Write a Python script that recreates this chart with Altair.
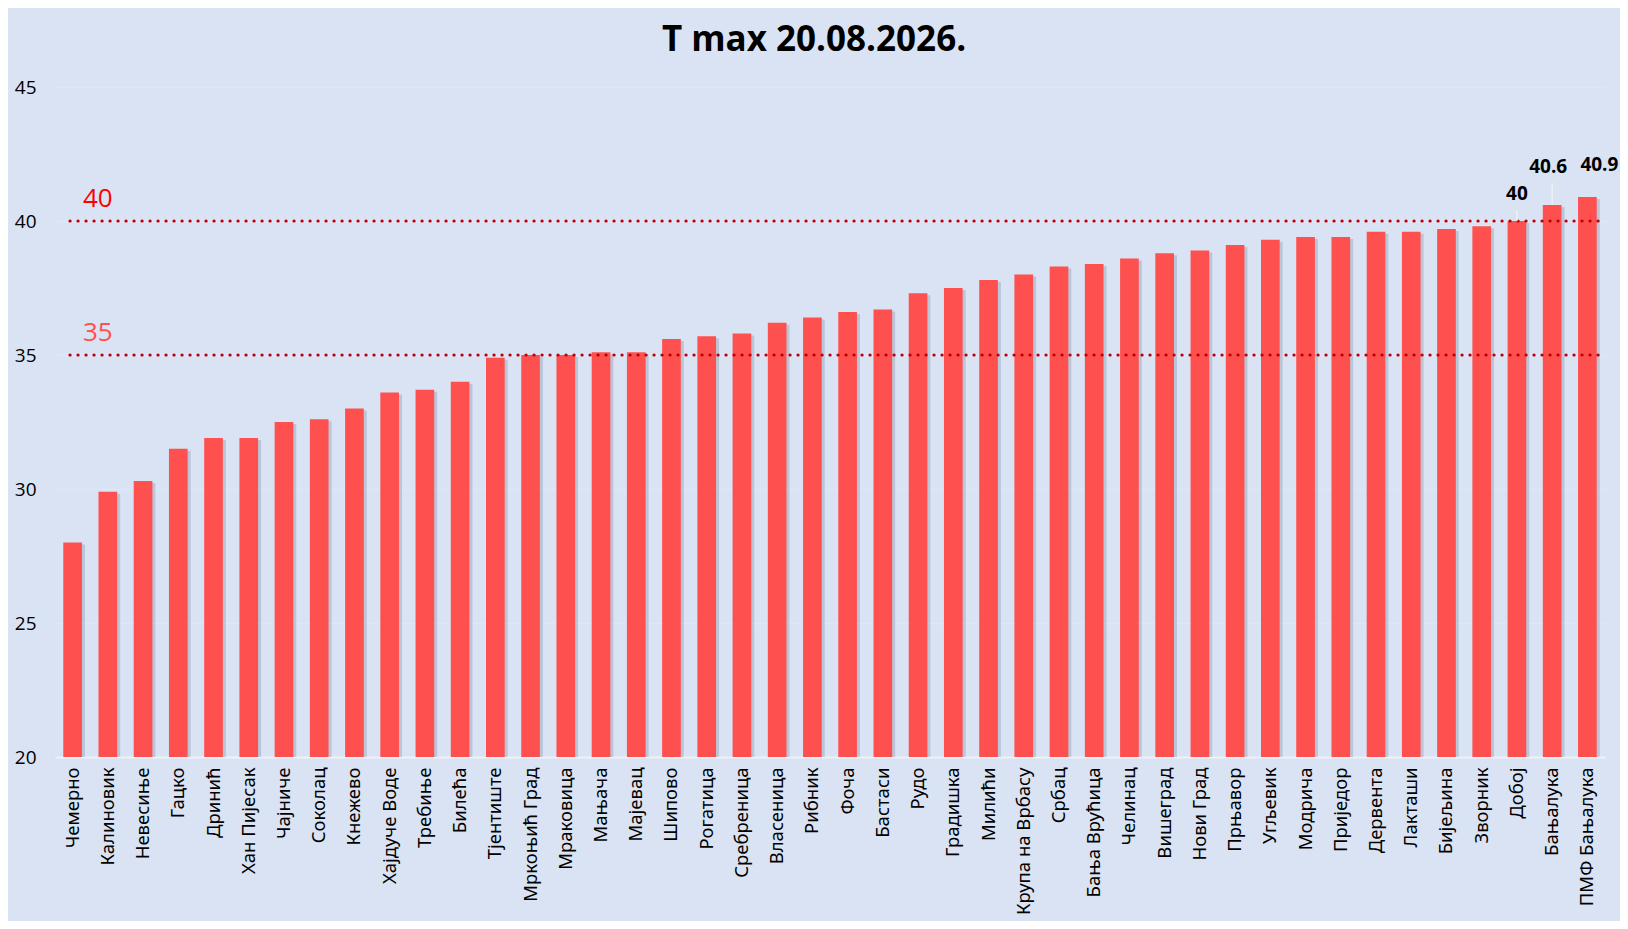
import altair as alt
import pandas as pd

stations = ["Чемерно", "Калиновик", "Невесиње", "Гацко", "Дринић", "Хан Пијесак", "Чајниче",
            "Соколац", "Кнежево", "Хајдуче Воде", "Требиње", "Билећа", "Тјентиште", "Мркоњић Град",
            "Мраковица", "Мањача", "Мајевац", "Шипово", "Рогатица", "Сребреница", "Власеница",
            "Рибник", "Фоча", "Бастаси", "Рудо", "Градишка", "Милићи", "Крупа на Врбасу", "Србац",
            "Бања Врућица", "Челинац", "Вишеград", "Нови Град", "Прњавор", "Угљевик", "Модрича",
            "Приједор", "Дервента", "Лакташи", "Бијељина", "Зворник", "Добој", "Бањалука",
            "ПМФ Бањалука"]
tmax = [28.0, 29.9, 30.3, 31.5, 31.9, 31.9, 32.5,
        32.6, 33.0, 33.6, 33.7, 34.0, 34.9, 35.0,
        35.0, 35.1, 35.1, 35.6, 35.7, 35.8, 36.2,
        36.4, 36.6, 36.7, 37.3, 37.5, 37.8, 38.0, 38.3,
        38.4, 38.6, 38.8, 38.9, 39.1, 39.3, 39.4,
        39.4, 39.6, 39.6, 39.7, 39.8, 40.0, 40.6,
        40.9]
labelled_stations = ["Добој", "Бањалука", "ПМФ Бањалука"]
y_ticks = [20, 25, 30, 35, 40, 45]
thresholds = [40, 35]
threshold_labels = ["40", "35"]
threshold_colors = ["#FF0000", "#FF5050"]
title_text = "T max 20.08.2026."

df = pd.DataFrame({"station": stations, "tmax": tmax})
thr = pd.DataFrame({"value": thresholds, "label": threshold_labels, "color": threshold_colors})

W, H = 1550, 670
BG = "#DAE3F3"

x_enc = alt.X("station:N", sort=stations,
              scale=alt.Scale(paddingInner=0.47, paddingOuter=0.235),
              axis=alt.Axis(title=None, labelAngle=-90, labelFontSize=18.5, labelColor="#000000",
                            labelFont="Noto Sans", labelPadding=10, ticks=False,
                            domainColor="#EEF2F8", domainWidth=2, labelLimit=300))
y_scale = alt.Scale(domain=[20, 45], zero=False, nice=False)
y_enc = alt.Y("tmax:Q", scale=y_scale,
              axis=alt.Axis(title=None, values=y_ticks, labelFontSize=19, labelColor="#000000",
                            labelFont="Open Sans", labelPadding=19, ticks=False, domain=False,
                            grid=True, gridColor="#DFE7F5", gridWidth=1.5))

base = alt.Chart(df)

shadow = base.mark_bar(color="#4a5a78", opacity=0.22, xOffset=3, yOffset=2).encode(
    x=x_enc, y=y_enc, y2=alt.datum(20))
bars = base.mark_bar(color="#FF5050").encode(x=x_enc, y=y_enc, y2=alt.datum(20))

rules = alt.Chart(thr).mark_rule(color="#C00000", strokeWidth=3.2, strokeDash=[0.1, 7.9],
                                 strokeCap="round").encode(
    y=alt.Y("value:Q", scale=y_scale),
    x=alt.value(15), x2=alt.value(W))

rule_text = alt.Chart(thr).mark_text(align="left", baseline="bottom", fontSize=26,
                                     font="Open Sans", dy=-9).encode(
    y=alt.Y("value:Q", scale=y_scale),
    x=alt.value(28),
    text="label:N",
    color=alt.Color("color:N", scale=None))

# per-label placement (style only)
label_style = {"Добој": (0, -17), "Бањалука": (-4, -28), "ПМФ Бањалука": (12, -22)}
label_layers = []
leader_layers = []
for st in labelled_stations:
    dx, dy = label_style[st]
    sub = base.transform_filter(alt.datum.station == st)
    label_layers.append(sub.mark_text(
        fontSize=19, fontWeight="bold", font="Open Sans", baseline="bottom", dx=dx, dy=dy,
        color="#000000").encode(
        x=alt.X("station:N", sort=stations), y=alt.Y("tmax:Q", scale=y_scale),
        text=alt.Text("tmax:Q", format="~r")))
    if st != "ПМФ Бањалука":
        leader_layers.append(sub.mark_rule(color="#F2F2F2", strokeWidth=1.5, opacity=0.9).encode(
            x=alt.X("station:N", sort=stations),
            y=alt.Y("tmax:Q", scale=y_scale),
            y2=alt.Y2("top:Q")).transform_calculate(top=alt.datum.tmax + (abs(dy) - 6) / 26.8))

chart = alt.layer(shadow, bars, rules, rule_text, *leader_layers, *label_layers).properties(
    width=W, height=H,
    title=alt.TitleParams(title_text, fontSize=35, fontWeight="bold", font="Open Sans",
                          color="#000000", anchor="middle", offset=20, dx=-16),
    autosize=alt.AutoSizeParams(type="none"),
    padding={"left": 47, "top": 79, "right": 15, "bottom": 164},
).configure(background=BG).configure_view(stroke=None)

chart.save("out.html", embed_options={"renderer": "svg", "actions": False})
